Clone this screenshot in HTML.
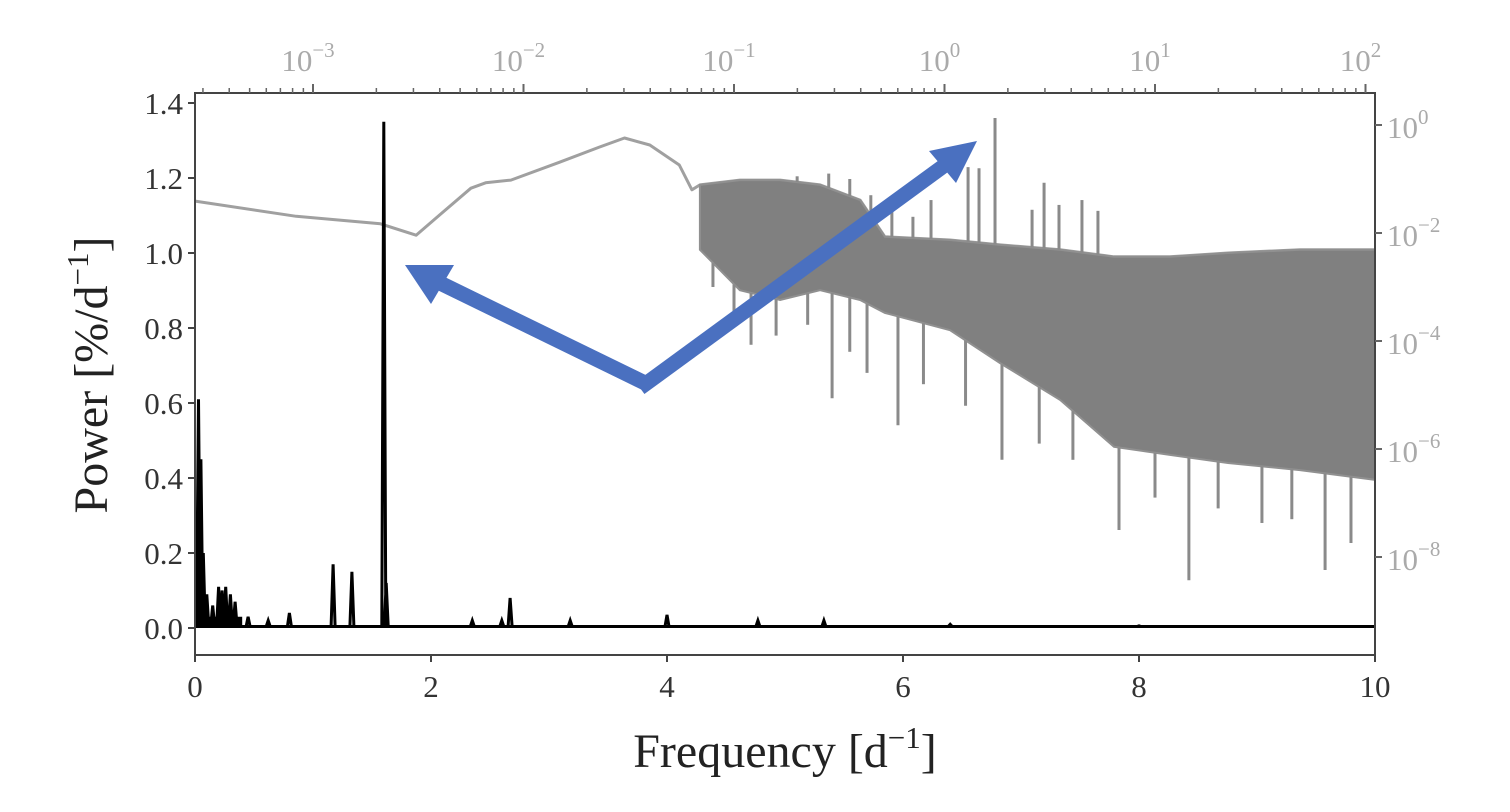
<!DOCTYPE html>
<html><head><meta charset="utf-8"><style>
html,body{margin:0;padding:0;background:#fff;}
svg{display:block;font-family:"Liberation Serif",serif;}
</style></head><body>
<svg id="chart" width="1510" height="812" viewBox="0 0 1510 812" xmlns="http://www.w3.org/2000/svg">
<g id="gray"></g>
<g id="black"></g>
<g id="axes"></g>
<g id="arrows">
  <line x1="645" y1="383" x2="440" y2="283" stroke="#4a70c0" stroke-width="15"/>
  <polygon points="405,265 454,265 431,304" fill="#4a70c0"/>
  <line x1="640" y1="388" x2="945" y2="165" stroke="#4a70c0" stroke-width="15"/>
  <polygon points="977,141 929,151 956,183" fill="#4a70c0"/>
</g>
<text x="785" y="767" font-size="48" text-anchor="middle" fill="#222">Frequency [d<tspan font-size="31" dy="-19">−1</tspan><tspan dy="19">]</tspan></text>
<text transform="translate(107,375) rotate(-90)" font-size="48" text-anchor="middle" fill="#222">Power [%/d<tspan font-size="31" dy="-19">−1</tspan><tspan dy="19">]</tspan></text>
</svg>
<script>
const peakFreq = [0.03,0.05,0.07,0.1,0.15,0.2,0.23,0.26,0.3,0.34,0.45,0.62,0.8,1.17,1.33,1.6,1.62,2.35,2.6,2.67,3.18,4.0,4.77,5.33,6.4,8.0];
const peakPower = [0.61,0.45,0.2,0.09,0.06,0.11,0.10,0.11,0.09,0.07,0.03,0.02,0.04,0.17,0.15,1.35,0.12,0.02,0.02,0.08,0.02,0.035,0.02,0.02,0.01,0.006];
const baseFreq = [0,10];
const basePower = [0.004,0.004];
const curveLogF = [-3.56,-3.08,-2.68,-2.51,-2.40,-2.25,-2.18,-2.06,-1.83,-1.64,-1.52,-1.40,-1.26,-1.20];
const curveLogP = [-1.41,-1.69,-1.83,-2.04,-1.67,-1.17,-1.07,-1.02,-0.69,-0.41,-0.24,-0.37,-0.74,-1.20];
const bandLogF = [-1.162,-0.972,-0.781,-0.591,-0.401,-0.283,0.026,0.264,0.549,0.805,1.071,1.347,1.689,2.045];
const bandUpper = [-1.11,-1.02,-1.02,-1.11,-1.39,-2.07,-2.13,-2.22,-2.31,-2.44,-2.44,-2.37,-2.31,-2.31];
const bandLower = [-2.31,-3.06,-3.24,-3.06,-3.24,-3.48,-3.80,-4.41,-5.09,-5.96,-6.11,-6.26,-6.39,-6.57];
const upSpikeLogF = [0.240,0.164,0.112,0.473,0.653,0.544,0.729,-0.064,0.416,-0.70,-0.55,-0.45,-0.35,-0.25,-0.15];
const upSpikeLogP = [0.13,-0.80,-0.78,-1.07,-1.39,-1.48,-1.59,-1.39,-1.57,-0.95,-0.90,-1.00,-1.30,-1.55,-1.70];
const downSpikeLogF = [-0.919,-0.534,-0.368,-0.221,0.273,0.610,0.829,1.161,1.508,1.808,1.931,-1.10,-1.00,-0.80,-0.65,-0.45,-0.10,0.10,0.45,1.00,1.30,1.65];
const downSpikeLogP = [-4.07,-5.06,-4.59,-5.56,-6.20,-6.20,-7.50,-8.43,-7.37,-8.24,-7.74,-3.0,-3.6,-3.9,-3.7,-4.2,-4.8,-5.2,-5.9,-6.9,-7.1,-7.3];
const xTicks = [0,2,4,6,8,10];
const yTicks = [0.0,0.2,0.4,0.6,0.8,1.0,1.2,1.4];
const topTicks = [-3,-2,-1,0,1,2];
const rightTicks = [0,-2,-4,-6,-8];

const L=195,R=1375,T=93,B=655;
const X = f => L + (f/10)*(R-L);
const Y = p => 628 - p*375;
const TX = lf => 313 + (lf+3)*210.5;
const RY = lp => 125 - lp*54;
const NS='http://www.w3.org/2000/svg';
function mk(tag, parent, attrs){const e=document.createElementNS(NS,tag);for(const k in attrs)e.setAttribute(k,attrs[k]);parent.appendChild(e);return e;}

const gray=document.getElementById('gray');
let d='';
curveLogF.forEach((v,i)=>{d+=(i?'L':'M')+TX(v).toFixed(1)+','+RY(curveLogP[i]).toFixed(1);});
bandLogF.forEach((v,i)=>{d+='L'+TX(v).toFixed(1)+','+RY(bandUpper[i]).toFixed(1);});
const cl=mk('path',gray,{d:d,fill:'none',stroke:'#a0a0a0','stroke-width':3,'stroke-linejoin':'round'});


let pd='';
bandLogF.forEach((v,i)=>{pd+=(i?'L':'M')+TX(v).toFixed(1)+','+RY(bandUpper[i]).toFixed(1);});
for(let i=bandLogF.length-1;i>=0;i--){pd+='L'+TX(bandLogF[i]).toFixed(1)+','+RY(bandLower[i]).toFixed(1);}
pd+='Z';
const band=mk('path',gray,{d:pd,fill:'#808080',stroke:'#909090','stroke-width':2});


function interp(xs,ys,x){if(x<=xs[0])return ys[0];for(let i=1;i<xs.length;i++){if(x<=xs[i]){const t=(x-xs[i-1])/(xs[i]-xs[i-1]);return ys[i-1]+t*(ys[i]-ys[i-1]);}}return ys[ys.length-1];}
upSpikeLogF.forEach((v,i)=>{
  const s=mk('line',gray,{x1:TX(v),x2:TX(v),y1:RY(interp(bandLogF,bandUpper,v)),y2:RY(upSpikeLogP[i]),stroke:'#8a8a8a','stroke-width':3});
  
  
});
downSpikeLogF.forEach((v,i)=>{
  const s=mk('line',gray,{x1:TX(v),x2:TX(v),y1:RY(interp(bandLogF,bandLower,v)),y2:RY(downSpikeLogP[i]),stroke:'#8a8a8a','stroke-width':3});
  
  
});

const black=document.getElementById('black');
const bl=mk('line',black,{x1:X(baseFreq[0]),x2:X(baseFreq[1]),y1:Y(basePower[0]),y2:Y(basePower[1]),stroke:'#000','stroke-width':3});


let bd='';
peakFreq.forEach((f,i)=>{
  bd+='M'+(X(f)-2).toFixed(1)+','+Y(basePower[0]).toFixed(1)+'L'+X(f).toFixed(1)+','+Y(peakPower[i]).toFixed(1)+'L'+(X(f)+2).toFixed(1)+','+Y(basePower[0]).toFixed(1);
});
const pk=mk('path',black,{d:bd,fill:'none',stroke:'#000','stroke-width':3});


const clutter=mk('rect',black,{x:X(0.08),y:Y(0.03),width:X(0.4)-X(0.08),height:Y(0)-Y(0.03),fill:'#000'});



const ax=document.getElementById('axes');
const fr=mk('rect',ax,{x:L,y:T,width:R-L,height:B-T,fill:'none',stroke:'#444','stroke-width':2});


xTicks.forEach(v=>{
  mk('line',ax,{x1:X(v),x2:X(v),y1:B,y2:B+7,stroke:'#444','stroke-width':2});
  const t=mk('text',ax,{x:X(v),y:B+42,'font-size':31,'text-anchor':'middle',fill:'#333'});
  t.textContent=String(v);
  
  
});
yTicks.forEach(v=>{
  mk('line',ax,{x1:L-7,x2:L,y1:Y(v),y2:Y(v),stroke:'#444','stroke-width':2});
  const t=mk('text',ax,{x:L-12,y:Y(v)+11,'font-size':31,'text-anchor':'end',fill:'#333'});
  t.textContent=v.toFixed(1);
  
  
});
for(let e=-4;e<2;e++){for(let m=2;m<10;m++){const lx=TX(e+Math.log10(m));if(lx>L&&lx<R)mk('line',ax,{x1:lx,x2:lx,y1:T,y2:T-5,stroke:'#666','stroke-width':1.5});}}
topTicks.forEach(v=>{
  mk('line',ax,{x1:TX(v),x2:TX(v),y1:T,y2:T-9,stroke:'#666','stroke-width':2});
  const t=mk('text',ax,{x:TX(v)-5,y:T-22,'font-size':31,'text-anchor':'middle',fill:'#aaa'});
  t.innerHTML='10<tspan font-size="21" dy="-14">'+(v<0?'−'+(-v):v)+'</tspan>';
  
  
});
rightTicks.forEach(v=>{
  mk('line',ax,{x1:R,x2:R+7,y1:RY(v),y2:RY(v),stroke:'#666','stroke-width':2});
  const t=mk('text',ax,{x:R+12,y:RY(v)+13,'font-size':31,fill:'#aaa'});
  t.innerHTML='10<tspan font-size="21" dy="-14">'+(v<0?'−'+(-v):v)+'</tspan>';
  
  
});
</script>
</body></html>
